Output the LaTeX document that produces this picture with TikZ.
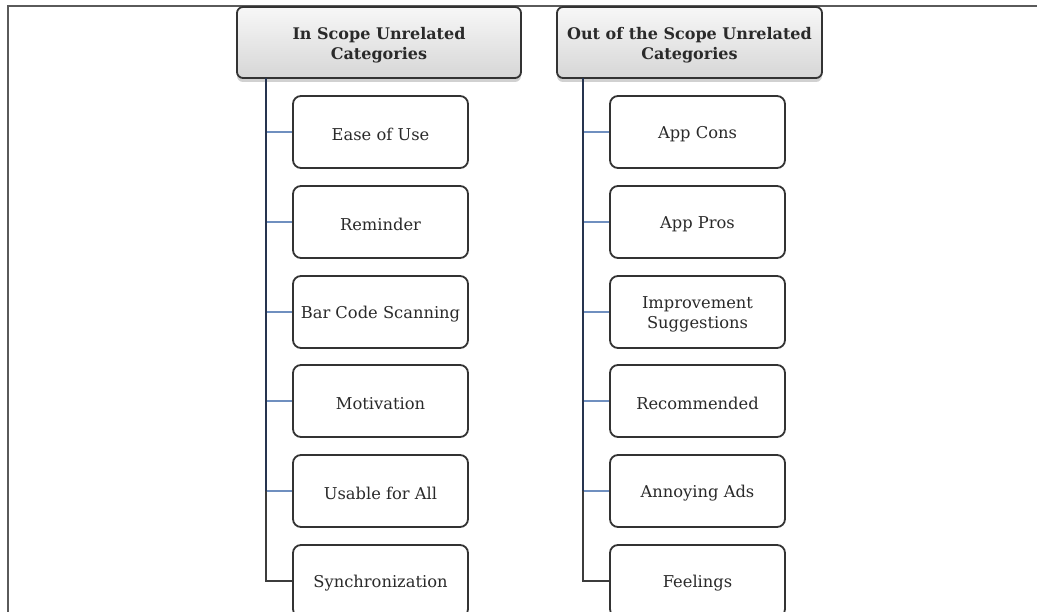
\documentclass[tikz,border=0pt]{standalone}
\usepackage{fontspec}
\setmainfont{DejaVu Serif}
\usetikzlibrary{shadows,positioning}
\definecolor{frame}{HTML}{5A5A5A}
\definecolor{boxline}{HTML}{333333}
\definecolor{spine}{HTML}{26344F}
\definecolor{branch}{HTML}{6F8FBF}
\definecolor{tail}{HTML}{3C3C3C}
\definecolor{ink}{HTML}{2A2A2A}
\tikzset{
  head/.style={draw=boxline, line width=1.8pt, rounded corners=6pt,
    top color=gray!6, bottom color=gray!32, minimum width=284pt, minimum height=71pt,
    drop shadow={shadow xshift=0pt, shadow yshift=-4pt, opacity=0.3, fill=black!60}},
  headtext/.style={align=center, text=ink, font=\fontsize{16}{20}\selectfont\bfseries},
  leaf/.style={draw=boxline, line width=1.8pt, rounded corners=8pt, fill=white,
    minimum width=175pt, minimum height=72pt},
  leaftext/.style={align=center, text=ink, font=\fontsize{16.3}{20}\selectfont},
  spineline/.style={draw=spine, line width=2pt},
  twig/.style={draw=branch, line width=1.6pt},
  lastline/.style={draw=tail, line width=2pt}
}
\begin{document}
\begin{tikzpicture}[x=1pt,y=-1pt]
\useasboundingbox (0,0) rectangle (1037,612);
\clip (0,0) rectangle (1037,612);
% page frame
\draw[frame, line width=2.2pt] (8,613) -- (8,6) -- (1038,6);

% headers
\node[head] (h1) at (379,42.5) {};
\node[headtext] (h1-t) at ([yshift=-3pt]h1.center) {In Scope Unrelated\\Categories};
\node[head, minimum width=265pt] (h2) at (689.5,42.5) {};
\node[headtext] (h2-t) at ([yshift=-3pt]h2.center) {Out of the Scope Unrelated\\Categories};

% left column
\foreach \n/\y/\t in {a1/132/Ease of Use, a2/222/Reminder, a3/312/Bar Code Scanning,
  a4/401/Motivation, a5/491/Usable for All, a6/581/Synchronization}{
  \node[leaf] (\n) at (380.5,\y) {};
  \node[leaftext] (\n-t) at ([yshift=-2.5pt]\n.center) {\t};
}
% right column
\foreach \n/\y/\t in {b1/132/App Cons, b2/222/App Pros, b3/312/{Improvement\\Suggestions},
  b4/401/Recommended, b5/491/Annoying Ads, b6/581/Feelings}{
  \node[leaf] (\n) at (697.5,\y) {};
  \node[leaftext] (\n-t) at ([yshift=-2.5pt]\n.center) {\t};
}

% spines and branches
\coordinate (sa) at (266,0);
\coordinate (sb) at (583,0);
\foreach \c/\s in {a/sa, b/sb}{
  \foreach \i in {1,...,5}
    \draw[twig] (\s |- \c\i.west) -- (\c\i.west);
  \draw[spineline] (\s |- 0,78) -- (\s |- \c5.west);
  \draw[lastline] (\s |- \c5.west) -- (\s |- \c6.west) -- (\c6.west);
}
\end{tikzpicture}
\end{document}
